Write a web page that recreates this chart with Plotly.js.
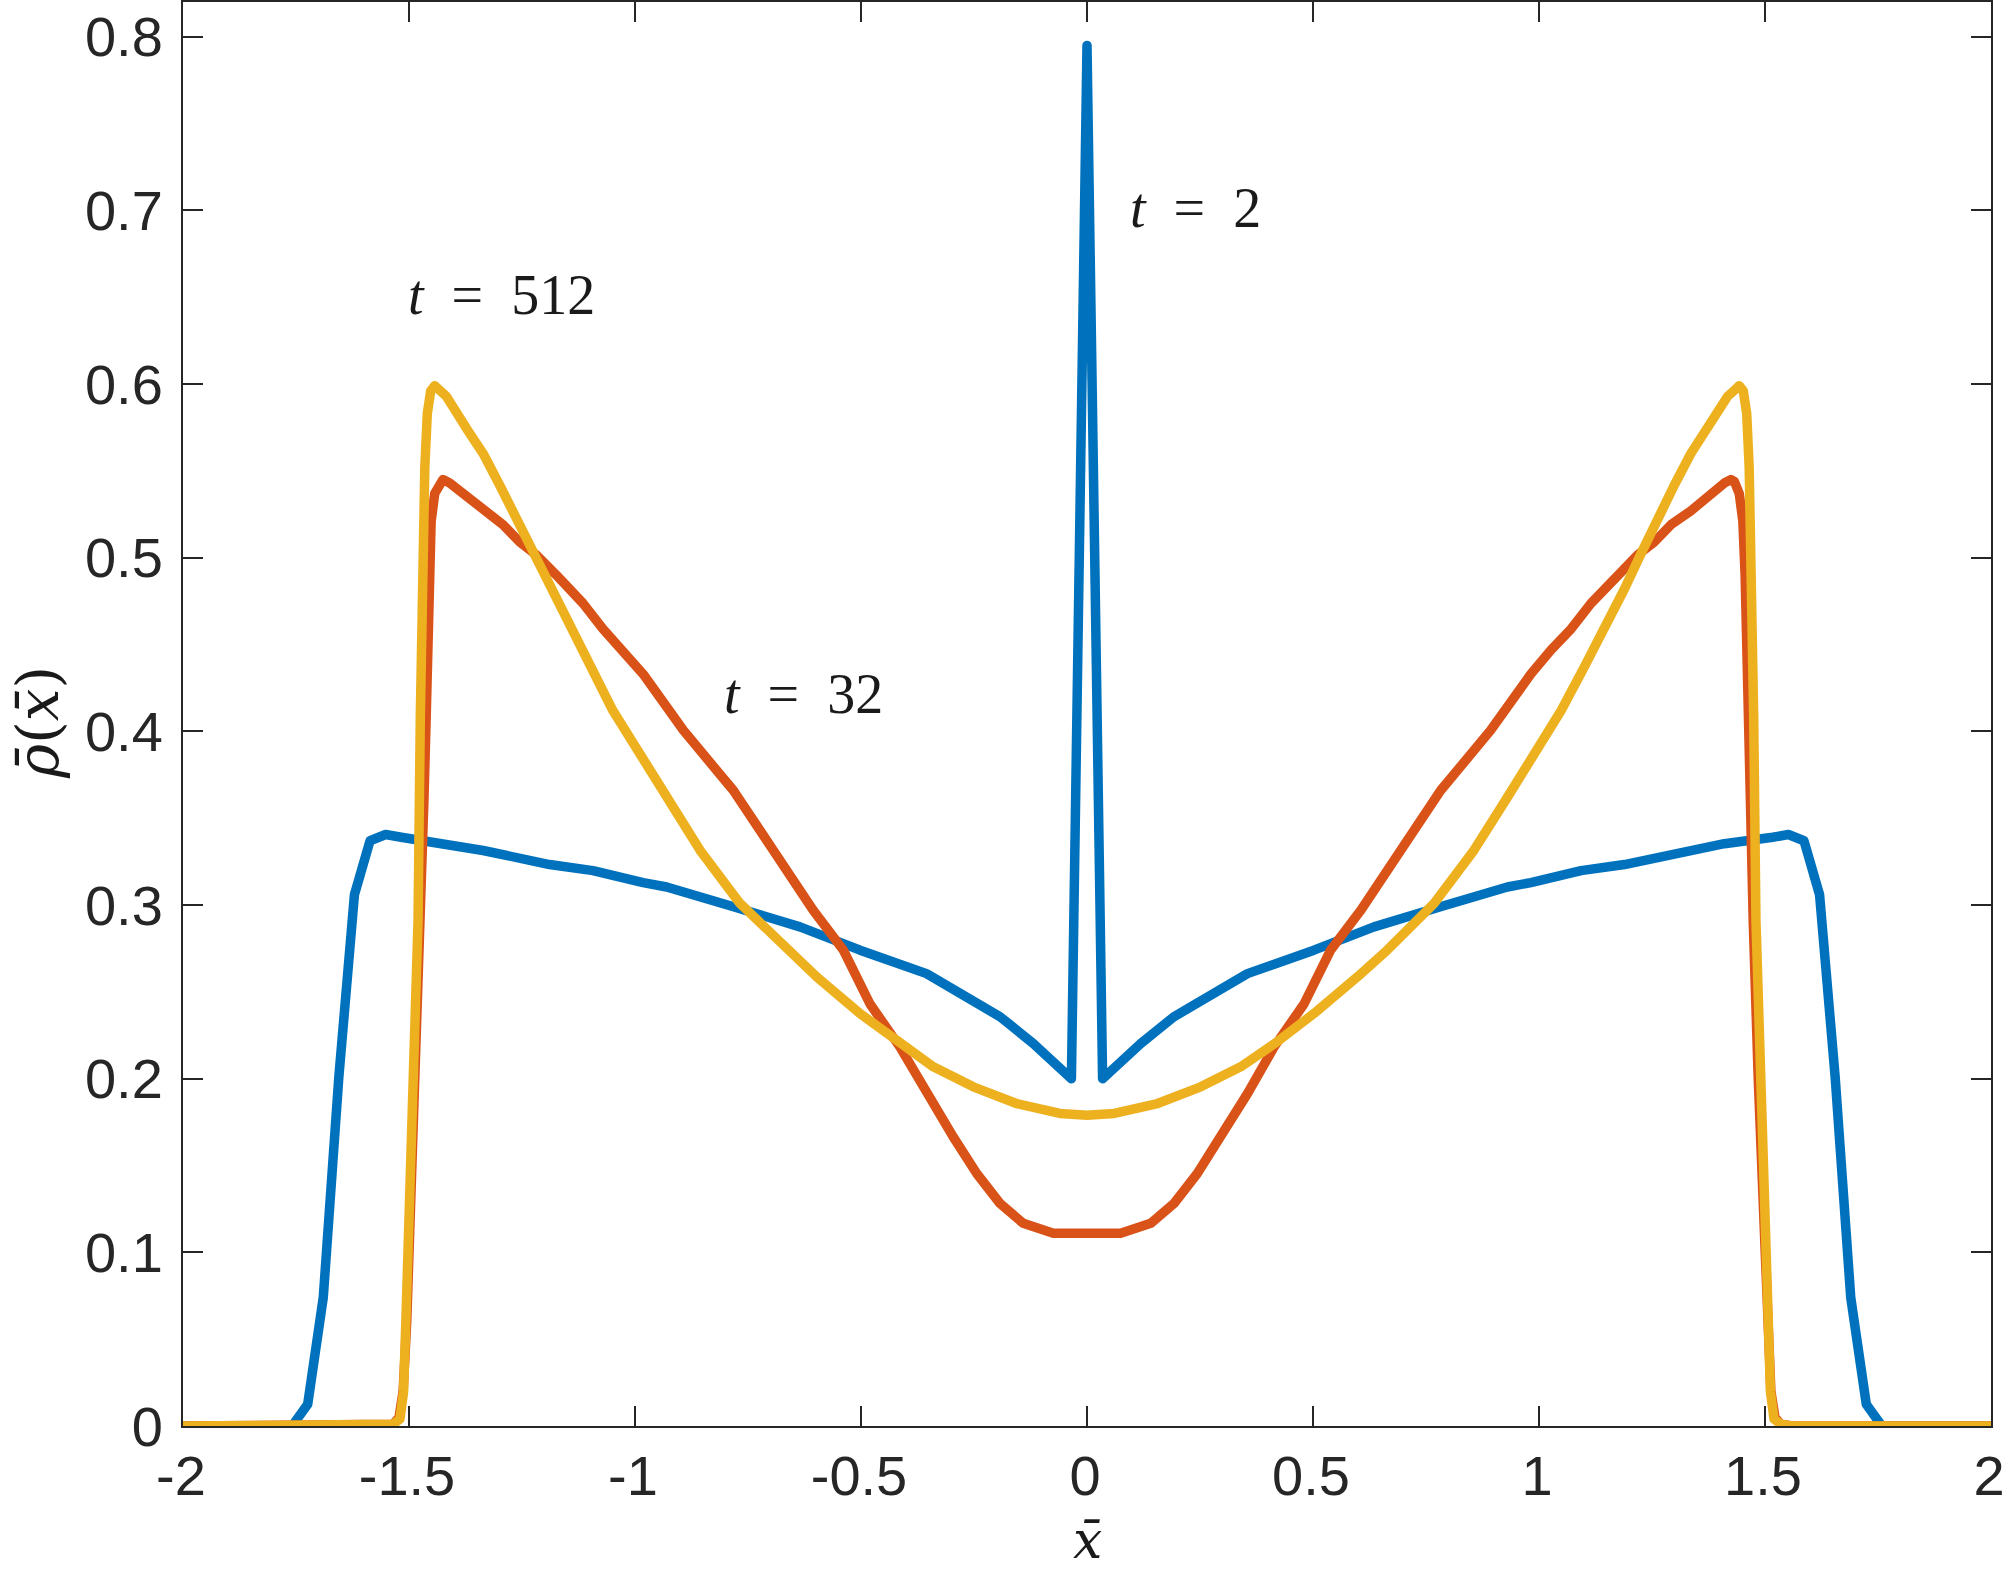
<!DOCTYPE html>
<html>
<head>
<meta charset="utf-8">
<script src="https://cdn.plot.ly/plotly-3.0.1.min.js"></script>
<style>
html,body{margin:0;padding:0;background:#fff;}
#chart{width:2005px;height:1573px;}
.js-line{stroke-linejoin:round !important;stroke-linecap:round !important;}
</style>
</head>
<body>
<div id="chart"></div>
<script>
// ---- data ----
const xBlue = [-2, -1.7931, -1.7586, -1.7241, -1.6897, -1.6552, -1.6207, -1.5862, -1.5517, -1.5172, -1.41, -1.336, -1.189, -1.093, -0.982, -0.93, -0.782, -0.635, -0.502, -0.355, -0.192, -0.119, -0.0345, 0,
  0.0345, 0.119, 0.192, 0.355, 0.502, 0.635, 0.782, 0.93, 0.982, 1.093, 1.189, 1.336, 1.41, 1.5172, 1.5517, 1.5862, 1.6207, 1.6552, 1.6897, 1.7241, 1.7586, 1.7931, 2];
const yBlue = [0, 0, 0, 0.0125, 0.074, 0.201, 0.306, 0.337, 0.3406, 0.339, 0.3353, 0.3314, 0.3233, 0.3198, 0.3129, 0.3104, 0.299, 0.2874, 0.274, 0.2605, 0.2356, 0.2203, 0.200, 0.795,
  0.200, 0.2203, 0.2356, 0.2605, 0.274, 0.2874, 0.299, 0.3104, 0.3129, 0.3198, 0.3233, 0.3314, 0.3353, 0.339, 0.3406, 0.337, 0.306, 0.201, 0.074, 0.0125, 0, 0, 0];

const xRed = [-2, -1.56, -1.535, -1.522, -1.513, -1.505, -1.495, -1.485, -1.474, -1.467, -1.462, -1.456, -1.451, -1.443, -1.432, -1.425, -1.41, -1.366, -1.336, -1.292, -1.255, -1.218, -1.174, -1.115, -1.071, -1.027, -0.982, -0.893, -0.7825, -0.694, -0.606, -0.539, -0.48, -0.414, -0.355, -0.296, -0.244, -0.192, -0.141, -0.0745, 0,
  0.0745, 0.141, 0.192, 0.244, 0.296, 0.355, 0.414, 0.48, 0.539, 0.606, 0.694, 0.7825, 0.893, 0.982, 1.027, 1.071, 1.115, 1.174, 1.218, 1.255, 1.292, 1.336, 1.366, 1.41, 1.425, 1.432, 1.443, 1.451, 1.456, 1.462, 1.467, 1.474, 1.485, 1.495, 1.505, 1.513, 1.522, 1.535, 1.56, 2];
const yRed = [0, 0, 0.001, 0.005, 0.02, 0.06, 0.13, 0.2, 0.29, 0.36, 0.408, 0.49, 0.521, 0.537, 0.544, 0.545, 0.543, 0.534, 0.527, 0.519, 0.509, 0.5015, 0.490, 0.4737, 0.459, 0.447, 0.433, 0.4006, 0.366, 0.3315, 0.297, 0.274, 0.243, 0.2183, 0.1914, 0.1665, 0.1454, 0.128, 0.1167, 0.111, 0.111,
  0.111, 0.1167, 0.128, 0.1454, 0.1665, 0.1914, 0.2183, 0.243, 0.274, 0.297, 0.3315, 0.366, 0.4006, 0.433, 0.447, 0.459, 0.4737, 0.490, 0.5015, 0.509, 0.519, 0.527, 0.534, 0.543, 0.545, 0.544, 0.537, 0.521, 0.49, 0.408, 0.36, 0.29, 0.2, 0.13, 0.06, 0.02, 0.005, 0.001, 0, 0];

const xYellow = [-2, -1.56, -1.535, -1.52, -1.512, -1.507, -1.4985, -1.491, -1.480, -1.475, -1.4705, -1.465, -1.4595, -1.452, -1.443, -1.435, -1.4175, -1.373, -1.336, -1.299, -1.263, -1.226, -1.189, -1.145, -1.100, -1.049, -0.990, -0.930, -0.856, -0.768, -0.664, -0.598, -0.502, -0.414, -0.340, -0.2515, -0.156, -0.060, 0,
  0.060, 0.156, 0.2515, 0.340, 0.414, 0.502, 0.598, 0.664, 0.768, 0.856, 0.930, 0.990, 1.049, 1.100, 1.145, 1.189, 1.226, 1.263, 1.299, 1.336, 1.373, 1.4175, 1.435, 1.443, 1.452, 1.4595, 1.465, 1.4705, 1.475, 1.480, 1.491, 1.4985, 1.507, 1.512, 1.52, 1.535, 1.56, 2];
const yYellow = [0, 0, 0.001, 0.004, 0.02, 0.06, 0.129, 0.1985, 0.291, 0.408, 0.490, 0.552, 0.583, 0.596, 0.599, 0.597, 0.593, 0.5745, 0.560, 0.5416, 0.523, 0.5025, 0.482, 0.459, 0.437, 0.412, 0.3874, 0.362, 0.3315, 0.301, 0.274, 0.2586, 0.2375, 0.220, 0.2068, 0.1953, 0.1857, 0.180, 0.179,
  0.180, 0.1857, 0.1953, 0.2068, 0.220, 0.2375, 0.2586, 0.274, 0.301, 0.3315, 0.362, 0.3874, 0.412, 0.437, 0.459, 0.482, 0.5025, 0.523, 0.5416, 0.560, 0.5745, 0.593, 0.597, 0.599, 0.596, 0.583, 0.552, 0.490, 0.408, 0.291, 0.1985, 0.129, 0.06, 0.02, 0.004, 0.001, 0, 0];

const xTickVals = [-2, -1.5, -1, -0.5, 0, 0.5, 1, 1.5, 2];
const xTickText = ["-2", "-1.5", "-1", "-0.5", "0", "0.5", "1", "1.5", "2"];
const yTickVals = [0, 0.1, 0.2, 0.3, 0.4, 0.5, 0.6, 0.7, 0.8];
const yTickText = ["0", "0.1", "0.2", "0.3", "0.4", "0.5", "0.6", "0.7", "0.8"];

const labelText = ["<i>t</i>\u2002=\u20022", "<i>t</i>\u2002=\u2002512", "<i>t</i>\u2002=\u200232"];
const labelX = [0.241, -1.2954, -0.6272];
const labelY = [0.7016, 0.6515, 0.4213];

// ---- chart ----
const axisColor = '#262626';
const lw = 9.5;
const traces = [
  {x: xBlue, y: yBlue, mode: 'lines', line: {color: '#0072BD', width: lw}, cliponaxis: false, hoverinfo: 'skip'},
  {x: xRed, y: yRed, mode: 'lines', line: {color: '#D95319', width: lw}, cliponaxis: false, hoverinfo: 'skip'},
  {x: xYellow, y: yYellow, mode: 'lines', line: {color: '#EDB120', width: lw}, cliponaxis: false, hoverinfo: 'skip'}
];

const serif = 'Liberation Serif, Times New Roman, serif';
const titleSerif = 'DejaVu Serif, Liberation Serif, serif';
const annotations = labelText.map((t, i) => ({
  x: labelX[i], y: labelY[i], xref: 'x', yref: 'y', text: t, showarrow: false,
  xanchor: 'center', yanchor: 'middle',
  font: {family: serif, size: 56, color: '#1a1a1a'}
}));
annotations.push({
  x: 0.5, y: -0.1025, xref: 'paper', yref: 'paper', text: '<i>x\u0304</i>', showarrow: false,
  xanchor: 'center', yanchor: 'bottom', font: {family: titleSerif, size: 52, color: '#1a1a1a'}
});
annotations.push({
  x: -0.0802, y: 0.4944, xref: 'paper', yref: 'paper', text: '<i>\u03C1\u0304</i>(<i>x\u0304</i>)', showarrow: false,
  textangle: -90, xanchor: 'center', yanchor: 'middle', font: {family: titleSerif, size: 58, color: '#1a1a1a'}
});

const tickFont = {size: 56, color: axisColor, family: 'Liberation Sans, Arial, Helvetica, sans-serif'};
const layout = {
  width: 2005, height: 1573,
  margin: {l: 183, r: 14, t: 2, b: 147, pad: 0},
  paper_bgcolor: '#ffffff', plot_bgcolor: '#ffffff',
  showlegend: false,
  font: {family: 'Liberation Sans, Arial, Helvetica, sans-serif', color: axisColor},
  xaxis: {
    range: [-2, 2], tickvals: xTickVals, ticktext: xTickText,
    ticks: 'inside', ticklen: 20, tickwidth: 2, tickcolor: axisColor,
    showline: true, linecolor: axisColor, linewidth: 2, mirror: 'allticks',
    showgrid: false, zeroline: false,
    tickfont: tickFont, ticklabeloverflow: 'allow',
    ticklabelstandoff: 0, ticklabelshift: -2
  },
  yaxis: {
    range: [0, 0.82], tickvals: yTickVals, ticktext: yTickText,
    ticks: 'inside', ticklen: 20, tickwidth: 2, tickcolor: axisColor,
    showline: true, linecolor: axisColor, linewidth: 2, mirror: 'allticks',
    showgrid: false, zeroline: false,
    tickfont: tickFont, ticklabeloverflow: 'allow',
    ticklabelstandoff: 7
  },
  annotations: annotations
};

Plotly.newPlot('chart', traces, layout, {staticPlot: true, displayModeBar: false});
</script>
</body>
</html>
